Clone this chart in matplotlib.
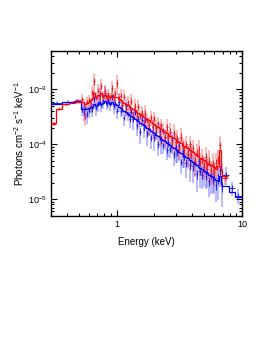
import numpy as np
import matplotlib
matplotlib.use("Agg")
import matplotlib.pyplot as plt
from matplotlib.ticker import LogLocator, LogFormatterSciNotation, NullFormatter, FixedLocator, FixedFormatter

plt.rcParams['font.family'] = ['Liberation Sans', 'DejaVu Sans']
plt.rcParams['mathtext.fontset'] = 'custom'
plt.rcParams['mathtext.rm'] = 'Liberation Sans'
plt.rcParams['mathtext.it'] = 'Liberation Sans:italic'
plt.rcParams['mathtext.bf'] = 'Liberation Sans:bold'

# narrow-bin energy edges (keV)
narrow_edges = [0.520, 0.537, 0.555, 0.573, 0.592, 0.612, 0.632, 0.653, 0.674, 0.697,
                0.720, 0.743, 0.768, 0.793, 0.819, 0.846, 0.874, 0.903, 0.933, 0.964,
                0.995, 1.028, 1.062, 1.097, 1.133, 1.171, 1.209, 1.249, 1.290, 1.333,
                1.377, 1.422, 1.469, 1.518, 1.568, 1.620, 1.673, 1.728, 1.785, 1.844,
                1.905, 1.968, 2.033, 2.100, 2.169, 2.241, 2.315, 2.391, 2.470, 2.552,
                2.636, 2.723, 2.813, 2.906, 3.002, 3.101, 3.203, 3.309, 3.418, 3.531,
                3.648, 3.768, 3.893, 4.021, 4.154, 4.291, 4.433, 4.579, 4.730, 4.886,
                5.048, 5.214, 5.386, 5.564, 5.748, 5.938, 6.134, 6.336, 6.545, 6.761,
                6.985]

blue_edges = [0.30, 0.37, 0.45] + narrow_edges + [7.9, 8.8, 10.0]
red_edges = [0.30, 0.33, 0.37, 0.42, 0.47] + narrow_edges + [7.8]

# fluxes in units of 1e-4 photons cm^-2 s^-1 keV^-1
blue_flux = [5.6, 5.9, 6.2,
             4.3, 3.8, 4.6, 3.6, 4.1, 5.0, 4.4, 6.8, 4.6, 5.6,
             7.9, 5.2, 6.1, 8.6, 5.5, 6.3, 5.4, 7.2, 5.0, 5.6,
             4.1, 6.0, 4.1, 4.9, 3.0, 5.0, 3.6, 2.9, 3.9, 2.9,
             3.8, 2.2, 2.9, 1.7, 2.8, 2.0, 2.8, 1.6, 2.0, 1.3,
             2.1, 1.34, 1.7, 1.0, 1.75, 1.2, 0.96, 1.36, 0.8, 1.1,
             0.82, 1.17, 0.65, 0.89, 0.69, 0.91, 0.48, 0.75, 0.58, 0.46,
             0.66, 0.42, 0.64, 0.40, 0.48, 0.29, 0.49, 0.33, 0.28, 0.38,
             0.26, 0.35, 0.21, 0.29, 0.225, 0.295, 0.18, 0.24, 0.34, 0.17,
             0.28, 0.16, 0.115]
blue_model = [5.5, 5.8, 6.0,
              4.4, 4.4, 4.3, 4.3, 4.5, 4.7, 4.8, 5.3, 5.0, 5.3,
              6.0, 5.4, 5.7, 6.2, 5.6, 5.8, 5.5, 5.8, 5.3, 5.3,
              5.1, 4.8, 4.55, 4.27, 4.0, 3.83, 3.62, 3.45, 3.25, 3.07,
              2.92, 2.77, 2.62, 2.47, 2.33, 2.20, 2.09, 1.97, 1.87, 1.77,
              1.68, 1.58, 1.50, 1.42, 1.34, 1.27, 1.20, 1.13, 1.07, 1.01,
              0.96, 0.90, 0.86, 0.81, 0.77, 0.73, 0.68, 0.65, 0.61, 0.58,
              0.55, 0.52, 0.49, 0.465, 0.44, 0.415, 0.39, 0.37, 0.35, 0.33,
              0.31, 0.295, 0.28, 0.265, 0.25, 0.236, 0.224, 0.21, 0.26, 0.19,
              0.17, 0.135, 0.108]
blue_err_pct = [8, 7, 7,
                25, 30, 22, 35, 28, 25, 30, 35, 28, 30,
                32, 25, 28, 35, 25, 28, 25, 30, 28, 25,
                30, 35, 25, 32, 28, 35, 26, 33, 30, 38,
                27, 35, 30, 40, 28, 36, 32, 42, 30, 38,
                33, 44, 30, 40, 35, 45, 32, 42, 36, 46,
                33, 44, 38, 48, 35, 46, 40, 50, 36, 48,
                42, 52, 38, 50, 44, 54, 40, 52, 46, 56,
                42, 55, 48, 58, 44, 56, 50, 60, 52, 58,
                35, 30, 30]

red_flux = [2.35, 4.4, 5.4, 5.8, 6.3,
            6.6, 5.2, 3.3, 5.8, 6.4, 5.5, 8.8, 14.0, 7.0, 9.5,
            6.6, 11.5, 7.4, 9.2, 6.9, 8.0, 7.0, 10.5, 6.8, 8.3,
            13.0, 6.8, 7.7, 5.1, 7.4, 4.3, 5.9, 4.4, 6.2, 3.5,
            5.0, 3.3, 4.8, 3.2, 3.7, 2.4, 3.75, 2.7, 2.2, 3.1,
            2.1, 3.0, 1.96, 2.4, 1.47, 2.2, 1.76, 1.34, 2.05, 1.35,
            1.7, 1.08, 1.6, 1.1, 1.27, 0.82, 1.35, 0.93, 0.79, 1.0,
            0.67, 0.99, 0.68, 0.85, 0.50, 0.70, 0.78, 0.48, 0.54, 0.41,
            0.59, 0.41, 0.50, 0.34, 0.44, 0.32, 0.45, 0.52, 0.96, 0.30,
            0.24]
red_model = [2.4, 4.3, 5.3, 5.6, 6.0,
             6.0, 5.8, 5.5, 5.7, 6.0, 6.3, 7.0, 8.5, 7.2, 8.0,
             7.6, 8.6, 7.6, 8.0, 7.3, 7.6, 7.3, 7.8, 7.2, 7.4,
             7.2, 6.8, 6.45, 6.0, 5.7, 5.4, 5.1, 4.85, 4.6, 4.35,
             4.13, 3.92, 3.72, 3.53, 3.34, 3.17, 3.0, 2.85, 2.71, 2.57,
             2.44, 2.29, 2.18, 2.06, 1.96, 1.86, 1.76, 1.67, 1.59, 1.50,
             1.43, 1.35, 1.28, 1.22, 1.15, 1.09, 1.04, 0.98, 0.93, 0.88,
             0.84, 0.79, 0.75, 0.71, 0.67, 0.64, 0.60, 0.57, 0.54, 0.51,
             0.49, 0.46, 0.44, 0.42, 0.40, 0.38, 0.36, 0.40, 0.80, 0.33,
             0.26]
red_err_pct = [10, 8, 7, 7, 7,
               22, 28, 35, 25, 25, 28, 30, 40, 28, 32,
               25, 35, 26, 30, 25, 28, 25, 35, 26, 30,
               40, 28, 30, 25, 32, 26, 30, 25, 32, 27,
               33, 27, 34, 28, 35, 28, 36, 30, 37, 30,
               38, 31, 39, 32, 40, 33, 41, 34, 42, 35,
               43, 36, 44, 37, 45, 38, 46, 39, 47, 40,
               48, 41, 49, 42, 50, 43, 51, 44, 52, 45,
               53, 46, 54, 47, 55, 48, 56, 50, 45, 50,
               25]

x_ticks = [1, 10]
x_ticklabels = ['1', '10']

fig = plt.figure(figsize=(2.74, 3.54), dpi=100)
ax = fig.add_axes([0.186, 0.391, 0.697, 0.465])


def draw_series(edges, flux, err_pct, color):
    e = np.asarray(edges)
    lo, hi = e[:-1], e[1:]
    c = np.sqrt(lo * hi)
    f = np.asarray(flux) * 1e-4
    err = f * np.asarray(err_pct) / 100.0
    ax.errorbar(c, f, yerr=err, fmt='none', ecolor=color, alpha=0.4,
                elinewidth=1.1, capsize=0, zorder=2)
    ax.errorbar(c, f, xerr=[c - lo, hi - c], yerr=err * 0.35, fmt='none',
                ecolor=color, elinewidth=0.7, capsize=0, zorder=3)


draw_series(blue_edges, blue_flux, blue_err_pct, '#2020ff')
draw_series(red_edges, red_flux, red_err_pct, '#ff1a1a')
ax.stairs(np.asarray(blue_model) * 1e-4, blue_edges, baseline=None,
          color='#0000ff', lw=0.9, zorder=4)
ax.stairs(np.asarray(red_model) * 1e-4, red_edges, baseline=None,
          color='#ff0000', lw=0.9, zorder=5)

ax.set_xscale('log')
ax.set_yscale('log')
ax.set_xlim(0.3, 10)
ax.set_ylim(5e-6, 5e-3)

ax.xaxis.set_major_locator(FixedLocator(x_ticks))
ax.xaxis.set_major_formatter(FixedFormatter(x_ticklabels))
ax.xaxis.set_minor_locator(LogLocator(base=10, subs=np.arange(2, 10)))
ax.xaxis.set_minor_formatter(NullFormatter())
ax.yaxis.set_major_locator(LogLocator(base=10))
ax.yaxis.set_major_formatter(LogFormatterSciNotation())
ax.yaxis.set_minor_locator(LogLocator(base=10, subs=np.arange(2, 10)))
ax.yaxis.set_minor_formatter(NullFormatter())

ax.tick_params(which='both', direction='in', top=True, right=True, labelsize=6.5, width=0.8)
ax.tick_params(which='major', length=4, pad=3)
ax.tick_params(which='minor', length=2)
for s in ax.spines.values():
    s.set_linewidth(1.0)

ax.set_xlabel('Energy (keV)', fontsize=7, labelpad=6)
ax.set_ylabel('Photons cm$^{-2}$ s$^{-1}$ keV$^{-1}$', fontsize=7, labelpad=1)

fig.savefig('out.png', dpi=100)
